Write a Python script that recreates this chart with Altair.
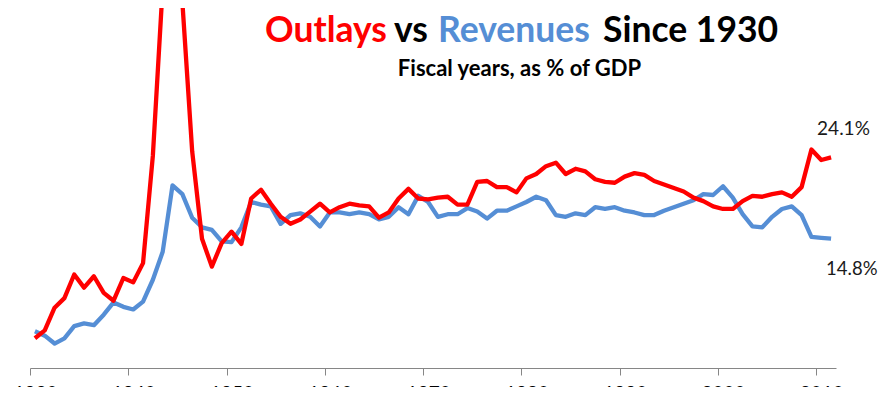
import altair as alt
import pandas as pd

years = list(range(1930, 2012))

outlays = [
    3.4, 4.3, 6.9, 8.0, 10.7, 9.2, 10.5, 8.6, 7.7, 10.3,
    9.8, 12.0, 24.3, 43.6, 43.6, 41.9, 24.8, 14.8, 11.6, 14.3,
    15.6, 14.2, 19.4, 20.4, 18.8, 17.3, 16.5, 17.0, 17.9, 18.8,
    17.8, 18.4, 18.8, 18.6, 18.5, 17.2, 17.8, 19.4, 20.5, 19.4,
    19.3, 19.5, 19.6, 18.7, 18.7, 21.3, 21.4, 20.7, 20.7, 20.1,
    21.7, 22.2, 23.1, 23.5, 22.2, 22.8, 22.5, 21.6, 21.3, 21.2,
    21.9, 22.3, 22.1, 21.4, 21.0, 20.6, 20.2, 19.5, 19.1, 18.5,
    18.2, 18.2, 19.1, 19.7, 19.6, 19.9, 20.1, 19.6, 20.7, 25.0,
    23.8, 24.1,
]

revenues = [
    4.2, 3.7, 2.8, 3.4, 4.8, 5.1, 4.9, 6.1, 7.5, 7.0,
    6.7, 7.6, 10.1, 13.3, 20.9, 19.9, 17.2, 16.1, 15.8, 14.5,
    14.4, 16.1, 19.0, 18.7, 18.5, 16.5, 17.5, 17.7, 17.3, 16.2,
    17.8, 17.8, 17.6, 17.8, 17.6, 17.0, 17.3, 18.4, 17.6, 19.7,
    19.0, 17.3, 17.6, 17.6, 18.3, 17.9, 17.1, 18.0, 18.0, 18.5,
    19.0, 19.6, 19.2, 17.5, 17.3, 17.7, 17.5, 18.4, 18.2, 18.4,
    18.0, 17.8, 17.5, 17.5, 18.0, 18.4, 18.8, 19.2, 19.9, 19.8,
    20.8, 19.5, 17.6, 16.2, 16.1, 17.3, 18.2, 18.5, 17.5, 15.0,
    14.9, 14.8,
]

tick_years = list(range(1930, 2011, 10))

df = pd.DataFrame({"year": years, "outlays": outlays, "revenues": revenues})

RED = "#FF0000"
BLUE = "#558ED5"
FONT = "Lato"

x_scale = alt.Scale(domain=[years[0] - 0.5, years[-1] + 0.5], nice=False, zero=False)
x_enc = alt.X(
    "year:Q",
    scale=x_scale,
    axis=alt.Axis(
        values=[t - 0.5 for t in tick_years],
        labelExpr="toString(datum.value + 0.5)",
        labelOffset=5,
        tickSize=7,
        tickColor="#868686",
        domainColor="#868686",
        domainWidth=1,
        tickWidth=1,
        grid=False,
        labelFontSize=19,
        labelFont=FONT,
        labelColor="#000000",
        labelPadding=9,
        labelFlush=False,
        title=None,
    ),
)
y_scale = alt.Scale(domain=[0, 41.2], nice=False, zero=True)

base = alt.Chart(df)

rev_line = base.mark_line(color=BLUE, strokeWidth=4.3, strokeJoin="round").encode(
    x=x_enc, y=alt.Y("revenues:Q", scale=y_scale, axis=None)
)
out_line = base.mark_line(color=RED, strokeWidth=4.3, strokeJoin="round").encode(
    x=x_enc, y=alt.Y("outlays:Q", scale=y_scale, axis=None)
)

last_out = pd.DataFrame({"year": [years[-1]], "value": [outlays[-1]],
                         "label": [f"{outlays[-1]:.1f}%"]})
last_rev = pd.DataFrame({"year": [years[-1]], "value": [revenues[-1]],
                         "label": [f"{revenues[-1]:.1f}%"]})

out_label = alt.Chart(last_out).mark_text(
    font=FONT, fontSize=19, color="#1a1a1a", align="left", baseline="alphabetic", dx=-14, dy=-22
).encode(x=alt.X("year:Q", scale=x_scale), y=alt.Y("value:Q", scale=y_scale), text="label:N")
rev_label = alt.Chart(last_rev).mark_text(
    font=FONT, fontSize=18.5, color="#1a1a1a", align="left", baseline="alphabetic", dx=-5, dy=36
).encode(x=alt.X("year:Q", scale=x_scale), y=alt.Y("value:Q", scale=y_scale), text="label:N")

one = alt.Data(values=[{"a": 1}])


def title_piece(txt, color, xpos, ypos=34, size=35.5, align="left"):
    return alt.Chart(one).mark_text(
        text=txt, font=FONT, fontSize=size, fontWeight="bold", color=color,
        align=align, baseline="alphabetic"
    ).encode(x=alt.value(xpos), y=alt.value(ypos))


titles = [
    title_piece("Outlays", RED, 235),
    title_piece("vs", "#000000", 364),
    title_piece("Revenues", BLUE, 408),
    title_piece("Since 1930", "#000000", 573),
    title_piece("Fiscal years, as % of GDP", "#000000", 489.5, ypos=68, size=22, align="center"),
]

chart = alt.layer(rev_line, out_line, out_label, rev_label, *titles).properties(
    width=806,
    height=360,
    autosize=alt.AutoSizeParams(type="none"),
    padding={"left": 22, "top": 0, "right": 46, "bottom": 19},
    background="white",
).configure_view(stroke=None)

chart.save("out.html", embed_options={"renderer": "svg", "actions": False})
